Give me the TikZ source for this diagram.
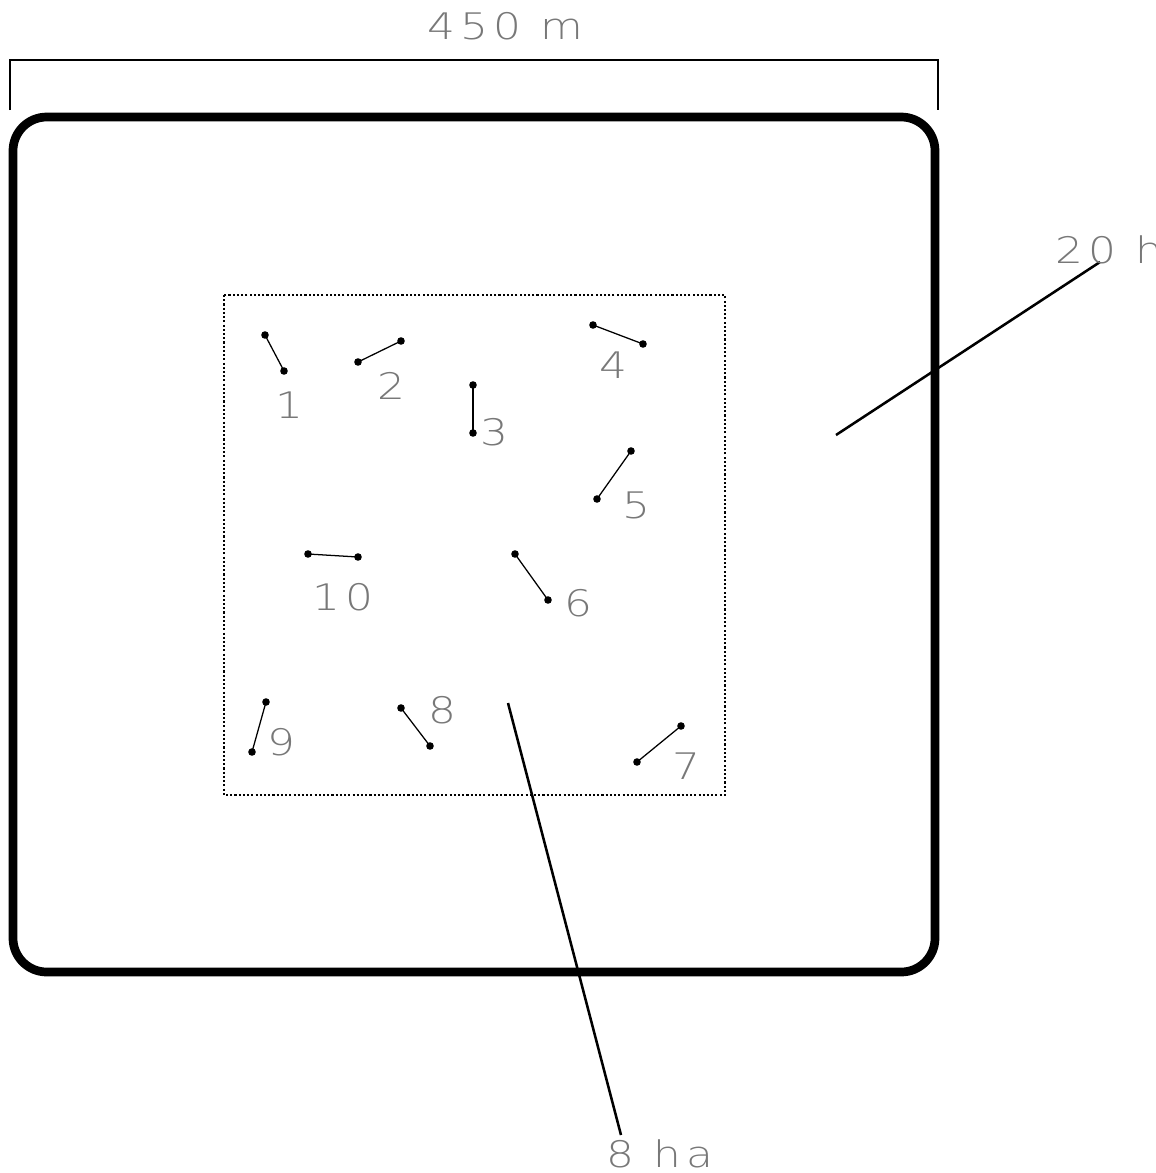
\documentclass[tikz,border=0pt]{standalone}
\usepackage{fontspec}
\setmainfont{Liberation Sans}
\newfontfamily\labfam[FakeStretch=1.2,LetterSpace=14]{DejaVuSans-ExtraLight.ttf}
\newcommand\labfnt{\labfam\fontsize{26}{26}\selectfont}
\usetikzlibrary{positioning,calc}
\definecolor{tc}{RGB}{120,120,120}
\tikzset{lab/.style={text=tc,font=\labfnt,inner sep=0pt},
 seg/.style={line width=.9pt},
 dot/.style={fill,circle,inner sep=0pt,minimum size=5.4pt},
 lead/.style={line width=1.8pt},
 dim/.style={line width=1.3pt},
 site/.style={line width=6.2pt,rounded corners=24pt},
 core/.style={line width=1.7pt,dash pattern=on 1.5pt off 1.5pt}}
\begin{document}
\begin{tikzpicture}[x=0.025cm,y=-0.025cm]
\useasboundingbox (0,0) rectangle (1156,1173);
\clip (0,0) rectangle (1156,1173);
% 450 m dimension
\coordinate (dla) at (10,110);\coordinate (dlb) at (10,60);
\coordinate (dra) at (938,110);\coordinate (drb) at (938,60);
\draw[dim] (dla)--(dlb)--(drb)--(dra);
\node[lab] (dimtxt) at (505,26) {450 m};
% outer 20 ha area and inner 8 ha area
\draw[site] (13,117) rectangle (935,972);
\draw[core] (224,295) rectangle (725,795);
% transects
\foreach \n/\xa/\ya/\xb/\yb/\lx/\ly in {1/265/335/284/371/289/405,2/358/362/401/341/391/386,
 3/473/385/473/433/494/432,4/593/325/643/344/613/365,5/631/451/597/499/636/505,
 6/515/554/548/600/578/603,7/681/726/637/762/686/766,8/401/708/430/746/442/710,
 9/266/702/252/752/281/742,10/308/554/358/557/343/597}{
\node[dot] (a\n) at (\xa,\ya) {};\node[dot] (b\n) at (\xb,\yb) {};
\draw[seg] (a\n.center)--(b\n.center);
\node[lab] (l\n) at (\lx,\ly) {\n};}
% area labels
\coordinate (ta) at (836,435);\coordinate (tb) at (1100,262);
\draw[lead] (ta)--(tb);
\node[lab,anchor=west] (big) at (1055,250) {20 ha};
\coordinate (ca) at (508,703);\coordinate (cb) at (621,1135);
\draw[lead] (ca)--(cb);
\node[lab] (small) at (660,1154) {8 ha};
\end{tikzpicture}
\end{document}
